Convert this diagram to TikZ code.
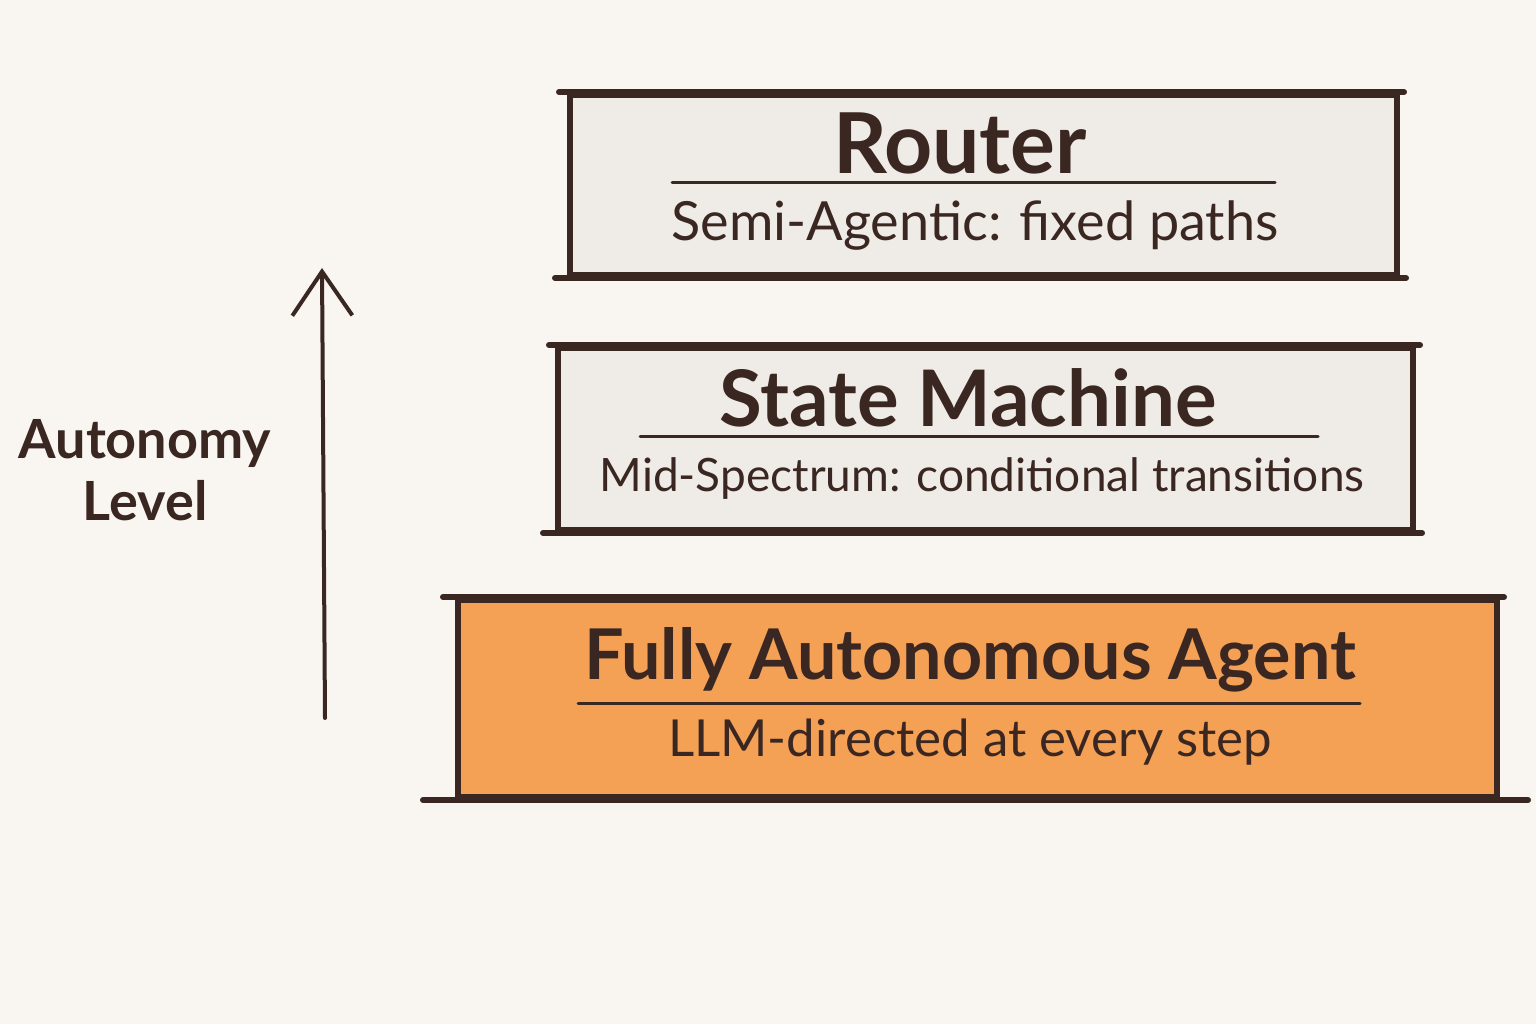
\documentclass[tikz,border=0pt]{standalone}
\usepackage{fontspec}
\setmainfont{Lato}
\usetikzlibrary{arrows.meta}
\definecolor{bgc}{HTML}{F9F6F1}
\definecolor{ink}{HTML}{3B2722}
\definecolor{greyfill}{HTML}{EFEBE6}
\definecolor{orangefill}{HTML}{F4A055}
\tikzset{
  tier/.style={draw=ink, line width=3pt, inner sep=0pt},
  title/.style={text=ink, font=\bfseries\fontsize{39}{45}\selectfont},
  sub/.style={text=ink, font=\fontsize{23}{28}\selectfont},
  rule/.style={draw=ink, line width=1.5pt, line cap=round},
  edge/.style={draw=ink, line width=3pt, line cap=round},
}
\begin{document}
\begin{tikzpicture}[x=0.5pt,y=-0.5pt]
\fill[bgc] (0,0) rectangle (1536,1024);
\useasboundingbox (0,0) rectangle (1536,1024);

% Router
\node[tier, fill=greyfill, minimum width=413.5pt, minimum height=90pt] (r) at (983.5,185) {};
\draw[edge] ([xshift=-4pt]r.north west) -- ([xshift=2pt]r.north east);
\draw[edge] ([xshift=-6pt]r.south west) -- ([xshift=3pt]r.south east);
\node[title, font=\bfseries\fontsize{42}{48}\selectfont] (rt) at (960,143) {Router};
\coordinate (rl1) at (672,182); \coordinate (rl2) at (1275,182);
\draw[rule] (rl1) -- (rl2);
\node[sub, font=\fontsize{27}{32}\selectfont] (rs) at (975,226) {Semi-Agentic: fixed paths};

% State Machine
\node[tier, fill=greyfill, minimum width=427.5pt, minimum height=91pt] (s) at (985.5,439) {};
\draw[edge] ([xshift=-3pt]s.north west) -- ([xshift=2pt]s.north east);
\draw[edge] ([xshift=-6pt]s.south west) -- ([xshift=3pt]s.south east);
\node[title] (st) at (968,398) {State Machine};
\coordinate (sl1) at (640,436); \coordinate (sl2) at (1318,436);
\draw[rule] (sl1) -- (sl2);
\node[sub] (ss) at (982,478) {Mid-Spectrum: conditional transitions};

% Fully Autonomous Agent
\node[tier, fill=orangefill, minimum width=519.5pt, minimum height=98.5pt] (a) at (977.5,698.5) {};
\draw[edge] ([xshift=-6pt]a.north west) -- ([xshift=2pt]a.north east);
\draw[edge] ([xshift=-16pt]a.south west) -- ([xshift=14pt]a.south east);
\node[title, font=\bfseries\fontsize{35}{42}\selectfont] (at) at (970,660) {Fully Autonomous Agent};
\coordinate (al1) at (578,703); \coordinate (al2) at (1360,703);
\draw[rule] (al1) -- (al2);
\node[sub, font=\fontsize{25.5}{30}\selectfont] (as) at (970,742) {LLM-directed at every step};

% Autonomy arrow
\coordinate (abot) at (325,718);
\coordinate (atop) at (322,268);
\draw[edge, line width=2pt, -{Straight Barb[length=22pt,width=30pt,line width=2pt]}] (abot) -- (atop);
\node[text=ink, font=\bfseries\fontsize{27}{31}\selectfont, align=center] (lab) at (145,470) {Autonomy\\Level};
\end{tikzpicture}
\end{document}
